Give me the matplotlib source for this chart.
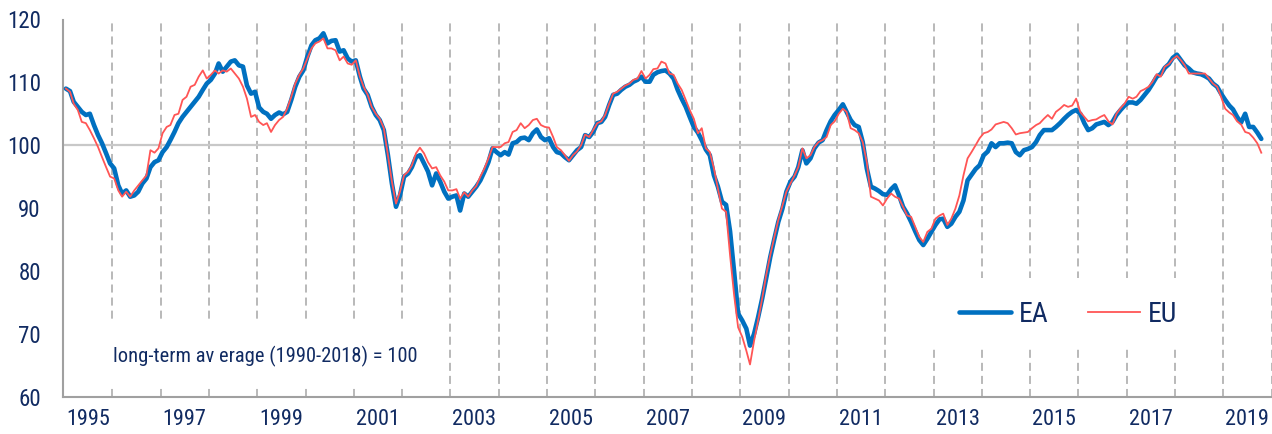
import matplotlib
matplotlib.use("Agg")
import matplotlib.pyplot as plt
import matplotlib.font_manager as fm
from matplotlib.patches import Rectangle
import pandas as pd

# ---------------- data (monthly, Jan 1995 - Oct 2019) ----------------
ea = [
    109.0, 108.6, 106.9, 106.1, 105.3, 104.8, 105.0, 103.2, 101.6, 100.3, 98.7, 97.1,   # 1995
    96.3, 93.6, 92.3, 92.8, 91.8, 92.0, 92.6, 93.9, 94.7, 96.5, 97.3, 97.6,            # 1996
    98.9, 99.7, 100.8, 102.1, 103.5, 104.5, 105.3, 106.1, 106.9, 107.7, 108.8, 109.8,  # 1997
    110.4, 111.4, 113.0, 111.7, 112.5, 113.3, 113.5, 112.7, 112.5, 109.5, 108.2, 108.5,  # 1998
    106.0, 105.3, 105.0, 104.2, 104.8, 105.2, 104.9, 105.3, 107.2, 109.3, 110.9, 111.9,  # 1999
    114.1, 115.9, 116.7, 117.0, 117.8, 116.2, 116.6, 116.7, 114.9, 115.1, 113.8, 113.3,  # 2000
    113.5, 110.9, 109.0, 108.0, 106.1, 104.8, 104.0, 102.4, 98.4, 93.9, 90.2, 92.0,     # 2001
    95.0, 95.5, 96.5, 98.1, 98.4, 97.1, 95.8, 93.6, 95.5, 94.2, 92.6, 91.5,             # 2002
    91.8, 92.0, 89.6, 92.3, 91.8, 92.6, 93.4, 94.4, 95.8, 97.3, 99.5, 98.9,             # 2003
    98.4, 98.9, 98.5, 100.3, 100.5, 101.1, 101.2, 100.8, 101.9, 102.5, 101.3, 100.8,    # 2004
    101.1, 99.7, 98.9, 98.7, 98.1, 97.6, 98.4, 99.2, 99.7, 101.6, 101.3, 102.1,         # 2005
    103.5, 103.7, 104.5, 106.4, 108.0, 108.2, 108.8, 109.3, 109.6, 110.1, 110.4, 110.9,  # 2006
    110.1, 110.1, 111.2, 111.6, 111.8, 111.9, 111.4, 110.6, 108.8, 107.4, 106.1, 104.5,  # 2007
    102.9, 102.0, 100.8, 99.3, 98.4, 95.2, 93.4, 91.0, 90.5, 86.3, 79.8, 73.2,          # 2008
    72.1, 70.8, 68.1, 70.0, 72.6, 75.6, 78.8, 82.2, 85.1, 87.8, 89.9, 92.6,             # 2009
    94.2, 95.0, 96.5, 99.2, 97.1, 97.9, 99.5, 100.4, 100.8, 102.4, 103.8, 104.8,        # 2010
    105.6, 106.5, 105.3, 104.0, 103.2, 102.9, 100.5, 96.3, 93.4, 93.1, 92.7, 92.2,      # 2011
    92.1, 93.0, 93.6, 92.0, 90.2, 89.1, 87.8, 86.3, 84.9, 84.1, 85.1, 86.2,             # 2012
    87.3, 88.2, 88.3, 87.0, 87.5, 88.6, 89.4, 91.2, 94.4, 95.3, 96.2, 96.8,             # 2013
    98.4, 99.0, 100.3, 99.7, 100.3, 100.3, 100.4, 100.3, 98.9, 98.4, 99.2, 99.4,        # 2014
    99.7, 100.5, 101.6, 102.4, 102.4, 102.4, 102.9, 103.5, 104.2, 104.8, 105.3, 105.6,  # 2015
    105.0, 103.5, 102.4, 102.7, 103.3, 103.5, 103.7, 103.2, 103.7, 104.8, 105.6, 106.3,  # 2016
    106.8, 106.8, 106.6, 107.2, 108.0, 108.8, 109.8, 110.9, 111.3, 112.3, 112.9, 113.9,  # 2017
    114.4, 113.5, 112.7, 112.2, 111.6, 111.4, 111.3, 111.0, 110.6, 109.8, 109.3, 108.2,  # 2018
    107.2, 106.3, 105.7, 104.5, 103.6, 105.0, 102.9, 102.9, 102.0, 101.0,               # 2019
]

eu = [
    109.0, 108.5, 106.6, 105.6, 103.7, 103.5, 102.4, 101.1, 99.7, 98.1, 96.5, 95.0,     # 1995
    94.7, 92.8, 91.8, 92.6, 91.8, 92.8, 93.6, 94.4, 95.2, 99.2, 98.8, 99.5,             # 1996
    101.9, 102.9, 103.2, 104.8, 105.0, 107.2, 107.7, 109.3, 109.6, 110.9, 111.9, 110.6,  # 1997
    111.2, 111.9, 111.4, 111.9, 111.7, 112.2, 111.4, 110.6, 109.3, 107.4, 104.5, 104.8,  # 1998
    103.7, 103.2, 103.5, 102.1, 103.2, 104.0, 104.5, 105.8, 107.7, 109.8, 111.2, 112.2,  # 1999
    113.8, 115.4, 116.2, 116.5, 117.0, 115.4, 115.4, 115.1, 113.5, 114.1, 113.0, 112.8,  # 2000
    113.5, 110.9, 109.3, 108.0, 106.1, 105.0, 104.2, 102.7, 98.4, 94.2, 90.7, 92.6,     # 2001
    95.2, 95.8, 96.8, 98.7, 99.6, 98.7, 97.3, 96.3, 96.5, 95.2, 94.2, 92.8,             # 2002
    92.8, 93.0, 91.5, 92.5, 91.8, 92.8, 93.5, 95.0, 96.3, 97.9, 99.7, 99.7,             # 2003
    99.7, 100.3, 100.5, 102.1, 102.4, 103.5, 102.7, 103.2, 104.0, 104.2, 103.2, 102.9,  # 2004
    102.8, 101.3, 99.7, 99.2, 98.4, 97.5, 98.4, 99.0, 100.0, 101.7, 101.3, 102.4,       # 2005
    103.5, 103.8, 104.8, 106.6, 108.2, 108.5, 109.0, 109.5, 109.8, 110.4, 110.6, 111.8,  # 2006
    110.6, 111.2, 112.1, 112.2, 113.3, 113.0, 111.4, 111.2, 109.8, 108.8, 107.2, 105.6,  # 2007
    104.2, 101.9, 102.7, 99.5, 98.9, 96.3, 93.1, 89.9, 89.4, 82.5, 76.1, 71.0,          # 2008
    69.5, 67.3, 65.1, 68.9, 72.1, 75.6, 79.3, 82.5, 85.4, 88.1, 90.4, 92.6,             # 2009
    93.9, 95.2, 96.5, 99.5, 97.9, 98.4, 99.7, 100.5, 100.8, 101.3, 103.2, 103.8,        # 2010
    105.0, 105.8, 105.3, 102.7, 102.4, 101.9, 100.5, 97.3, 91.8, 91.5, 91.2, 90.4,      # 2011
    91.5, 92.3, 91.8, 91.5, 90.2, 88.8, 88.6, 87.0, 85.4, 84.6, 86.2, 86.7,             # 2012
    88.3, 88.8, 89.1, 87.3, 88.3, 89.9, 92.0, 95.2, 97.9, 98.9, 100.0, 101.1,           # 2013
    101.9, 102.1, 102.5, 103.3, 103.5, 103.7, 103.5, 102.7, 101.7, 101.9, 102.0, 102.1,  # 2014
    102.7, 103.2, 103.5, 104.2, 104.8, 104.2, 105.3, 105.8, 106.4, 106.1, 106.3, 107.4,  # 2015
    105.3, 104.5, 103.8, 104.0, 104.1, 104.5, 104.8, 103.8, 103.3, 105.0, 105.9, 106.6,  # 2016
    107.7, 107.4, 107.7, 108.6, 108.9, 109.3, 110.1, 111.3, 110.9, 112.5, 112.9, 113.7,  # 2017
    114.2, 113.5, 112.7, 111.4, 111.4, 111.4, 111.4, 111.4, 110.6, 109.8, 109.3, 107.7,  # 2018
    105.8, 105.2, 104.8, 103.8, 103.3, 102.1, 101.9, 101.2, 100.3, 98.8,                # 2019
]

start_month = "1995-01-01"
year_labels = [str(y) for y in range(1995, 2020, 2)]
y_ticks = [60, 70, 80, 90, 100, 110, 120]
note_text = "long-term av erage (1990-2018) = 100"

# ---------------- style ----------------
W, H = 1272, 434
NAVY = "#112B62"
BLUE = "#0070C0"
RED = "#FF5555"
GRID = "#A6A6A6"

avail = {f.name for f in fm.fontManager.ttflist}
font = None
for cand in ["Liberation Sans Narrow", "Arial Narrow", "Roboto Condensed",
             "Open Sans Condensed", "DejaVu Sans Condensed"]:
    if cand in avail:
        font = cand
        break
stretch = "normal"
if font is None:
    cond = [f for f in fm.fontManager.ttflist
            if f.name in ("DejaVu Sans", "Noto Sans", "Open Sans", "Roboto")
            and str(f.stretch) in ("condensed", "semi-condensed", "75", "87")]
    if cond:
        font = cond[0].name
        stretch = cond[0].stretch
    else:
        font = "Liberation Sans"
plt.rcParams["font.family"] = [font, "DejaVu Sans"]
plt.rcParams["font.stretch"] = stretch
plt.rcParams["lines.scale_dashes"] = False

fig = plt.figure(figsize=(W / 100, H / 100), dpi=100)
left, right, top, bottom = 63, 1272, 19.5, 396.5
ax = fig.add_axes([left / W, 1 - bottom / H, (right - left) / W, (bottom - top) / H])

dates = pd.date_range(start_month, periods=len(ea), freq="MS") + pd.Timedelta(days=14)
dates_eu = pd.date_range(start_month, periods=len(eu), freq="MS") + pd.Timedelta(days=14)

# vertical dashed lines at the start of each year
for yr in range(1996, 2021):
    ax.axvline(pd.Timestamp(f"{yr}-01-01"), color=GRID, lw=1.1,
               dashes=(5.8, 3.6), zorder=1)

ax.axhline(100, color="#C8C8C8", lw=1.6, zorder=1.5)

# white boxes behind annotation and legend
ax.add_patch(Rectangle((0.029, 0.025), 0.266, 0.178, transform=ax.transAxes,
                       facecolor="white", edgecolor="none", zorder=2))
ax.add_patch(Rectangle((0.688, 0.129), 0.25, 0.185, transform=ax.transAxes,
                       facecolor="white", edgecolor="none", zorder=2))

ax.plot(dates, ea, color=BLUE, lw=3.3, label="EA", zorder=3,
        solid_joinstyle="round", solid_capstyle="round")
ax.plot(dates_eu, eu, color=RED, lw=1.3, label="EU", zorder=4,
        solid_joinstyle="round")

ax.set_ylim(60, 120)
ax.set_xlim(pd.Timestamp("1994-12-24"), pd.Timestamp("2020-01-04"))

ax.set_yticks(y_ticks)
ax.set_yticklabels([str(v) for v in y_ticks])
ax.set_xticks([pd.Timestamp(f"{lab}-07-01") for lab in year_labels])
ax.set_xticklabels(year_labels)
ax.tick_params(axis="y", length=0, pad=16, labelsize=16.5, labelcolor=NAVY)
ax.tick_params(axis="x", length=0, pad=9, labelsize=16, labelcolor=NAVY)

for s in ("top", "right"):
    ax.spines[s].set_visible(False)
for s in ("left", "bottom"):
    ax.spines[s].set_color("#A0A0A0")
    ax.spines[s].set_linewidth(1.5)

ax.text(0.0414, 0.105, note_text, transform=ax.transAxes, fontsize=14.8,
        color=NAVY, ha="left", va="center", zorder=5)

leg = ax.legend(loc="center", bbox_to_anchor=(1068 / W, 1 - 314 / H),
                bbox_transform=fig.transFigure, ncol=2, frameon=False,
                fontsize=20, handlelength=1.87, handletextpad=0.3,
                columnspacing=1.4, borderpad=0)
for t in leg.get_texts():
    t.set_color(NAVY)

fig.savefig("out.png", dpi=100)
